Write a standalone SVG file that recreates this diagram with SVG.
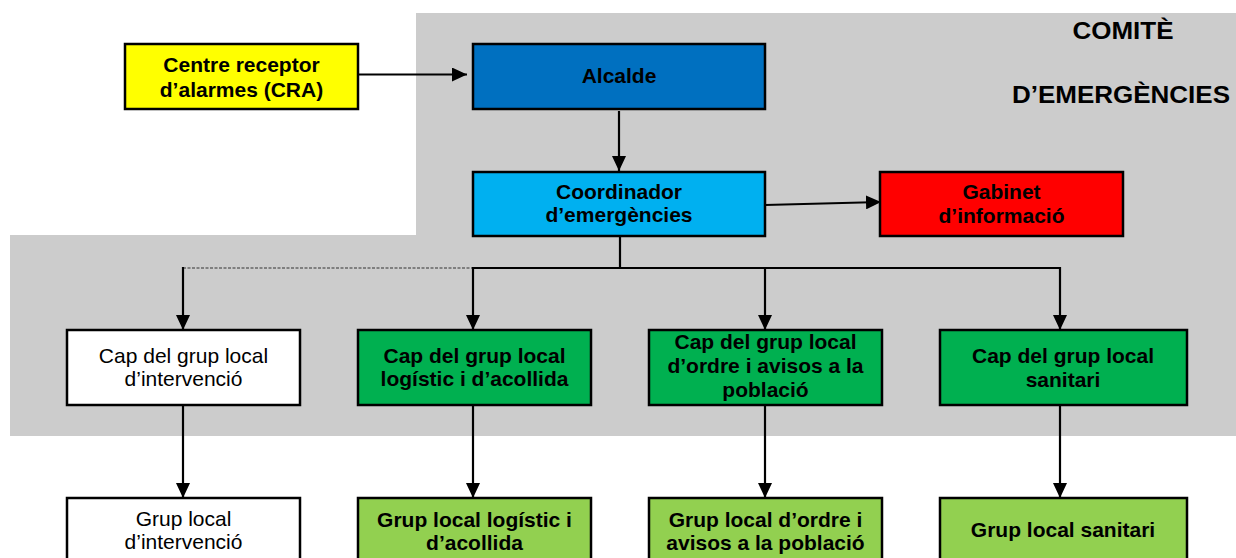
<svg xmlns="http://www.w3.org/2000/svg" width="1236" height="558" viewBox="0 0 1236 558">
<defs>
<style>
.box{stroke:#000;stroke-width:2.5}
.t{font-family:"Liberation Sans",Arial,sans-serif;font-size:21px;text-anchor:middle;fill:#000}
.b{font-weight:bold}
.title{font-family:"Liberation Sans",Arial,sans-serif;font-size:24px;font-weight:bold;text-anchor:middle;fill:#000}
.c{stroke:#000;stroke-width:2.2;fill:none}
.d{stroke:#333;stroke-width:1.2;stroke-dasharray:3 1.5;fill:none}
</style>
<marker id="ah" markerUnits="userSpaceOnUse" markerWidth="16" markerHeight="14" refX="15" refY="7" orient="auto">
<path d="M0,0 L15,7 L0,14 Z" fill="#000"/>
</marker>
</defs>
<rect width="1236" height="558" fill="#fff"/>
<g id="background">
<path d="M416,13 H1236 V436 H10 V235 H416 Z" fill="#CCCCCC"/>
<text class="title" x="1123" y="39" textLength="101" lengthAdjust="spacingAndGlyphs">COMITÈ</text>
<text class="title" x="1121" y="103" textLength="218" lengthAdjust="spacingAndGlyphs">D’EMERGÈNCIES</text>
</g>
<g id="connectors">
<line class="c" x1="358" y1="74.5" x2="467" y2="74.5" marker-end="url(#ah)"/>
<line class="c" x1="619" y1="111" x2="619" y2="171" marker-end="url(#ah)"/>
<line class="c" x1="765" y1="205" x2="881" y2="202" marker-end="url(#ah)"/>
<polyline class="c" points="620,236 620,268 1060,268"/>
<line class="c" x1="472" y1="268" x2="620" y2="268"/>
<line class="d" x1="183" y1="268" x2="472" y2="268"/>
<line class="c" x1="183" y1="267" x2="183" y2="330" marker-end="url(#ah)"/>
<line class="c" x1="473" y1="267" x2="473" y2="330" marker-end="url(#ah)"/>
<line class="c" x1="765" y1="267" x2="765" y2="330" marker-end="url(#ah)"/>
<line class="c" x1="1060" y1="267" x2="1060" y2="330" marker-end="url(#ah)"/>
<line class="c" x1="183" y1="405" x2="183" y2="498" marker-end="url(#ah)"/>
<line class="c" x1="473" y1="405" x2="473" y2="498" marker-end="url(#ah)"/>
<line class="c" x1="765" y1="405" x2="765" y2="498" marker-end="url(#ah)"/>
<line class="c" x1="1060" y1="405" x2="1060" y2="498" marker-end="url(#ah)"/>
</g>
<g id="cra">
<rect class="box" x="125" y="44" width="233" height="65" fill="#FFFF00"/>
<text class="t b" x="241.5" y="72">Centre receptor</text>
<text class="t b" x="241.5" y="97">d’alarmes (CRA)</text>
</g>
<g id="alcalde">
<rect class="box" x="473" y="44" width="292" height="65" fill="#0070C0"/>
<text class="t b" x="619" y="83">Alcalde</text>
</g>
<g id="coordinador">
<rect class="box" x="473" y="172" width="292" height="64" fill="#00B0F0"/>
<text class="t b" x="619" y="199">Coordinador</text>
<text class="t b" x="619" y="222">d’emergències</text>
</g>
<g id="gabinet">
<rect class="box" x="880" y="172" width="243" height="64" fill="#FF0000"/>
<text class="t b" x="1001.5" y="199">Gabinet</text>
<text class="t b" x="1001.5" y="223">d’informació</text>
</g>
<g id="cap-intervencio">
<rect class="box" x="67" y="330" width="233" height="75" fill="#FFFFFF"/>
<text class="t" x="183.5" y="363">Cap del grup local</text>
<text class="t" x="183.5" y="386">d’intervenció</text>
</g>
<g id="cap-logistic">
<rect class="box" x="358" y="330" width="233" height="75" fill="#00B050"/>
<text class="t b" x="474.5" y="363">Cap del grup local</text>
<text class="t b" x="474.5" y="386">logístic i d’acollida</text>
</g>
<g id="cap-ordre">
<rect class="box" x="649" y="330" width="233" height="75" fill="#00B050"/>
<text class="t b" x="765.5" y="349">Cap del grup local</text>
<text class="t b" x="765.5" y="373">d’ordre i avisos a la</text>
<text class="t b" x="765.5" y="397">població</text>
</g>
<g id="cap-sanitari">
<rect class="box" x="940" y="330" width="247" height="75" fill="#00B050"/>
<text class="t b" x="1063" y="363">Cap del grup local</text>
<text class="t b" x="1063" y="387">sanitari</text>
</g>
<g id="grup-intervencio">
<rect class="box" x="67" y="498" width="233" height="75" fill="#FFFFFF"/>
<text class="t" x="183.5" y="526">Grup local</text>
<text class="t" x="183.5" y="549">d’intervenció</text>
</g>
<g id="grup-logistic">
<rect class="box" x="358" y="498" width="233" height="75" fill="#92D050"/>
<text class="t b" x="474.5" y="527">Grup local logístic i</text>
<text class="t b" x="474.5" y="550">d’acollida</text>
</g>
<g id="grup-ordre">
<rect class="box" x="649" y="498" width="233" height="75" fill="#92D050"/>
<text class="t b" x="765.5" y="527">Grup local d’ordre i</text>
<text class="t b" x="765.5" y="550">avisos a la població</text>
</g>
<g id="grup-sanitari">
<rect class="box" x="940" y="498" width="247" height="75" fill="#92D050"/>
<text class="t b" x="1063" y="537">Grup local sanitari</text>
</g>
</svg>
